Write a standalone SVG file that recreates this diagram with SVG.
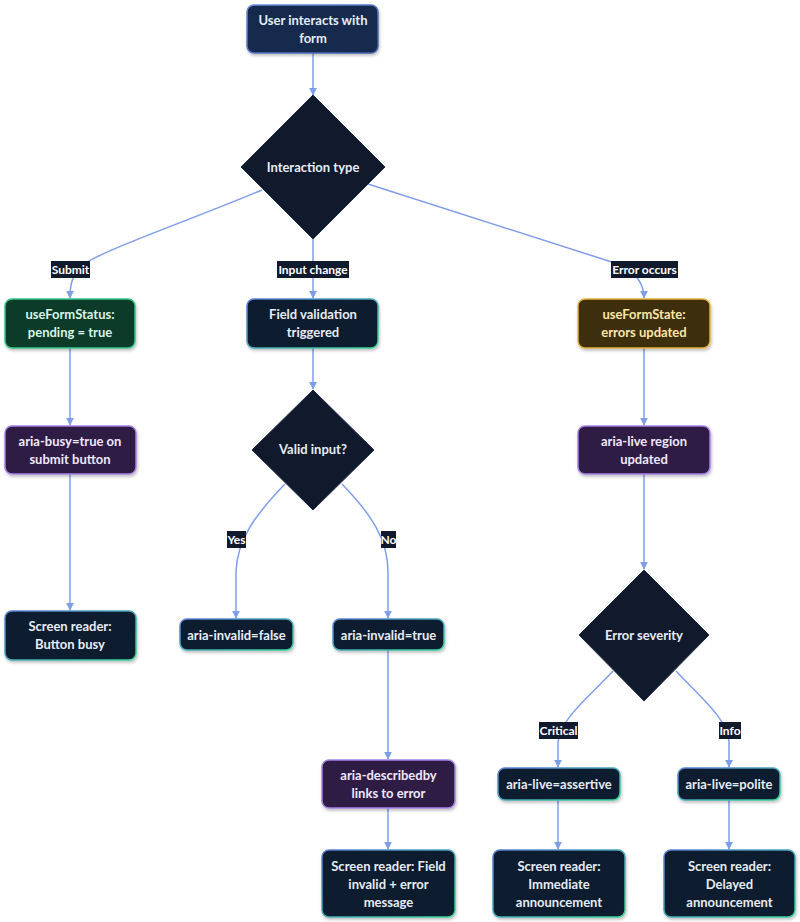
<svg xmlns="http://www.w3.org/2000/svg" width="800" height="922" viewBox="0 0 800 922">
<defs>
<linearGradient id="gDef" x1="0" y1="0" x2="1" y2="1">
<stop offset="0" stop-color="#5b7fd6"/><stop offset="1" stop-color="#34d399"/>
</linearGradient>
<linearGradient id="gTop" x1="0" y1="0" x2="1" y2="1">
<stop offset="0" stop-color="#6b8fe0"/><stop offset="1" stop-color="#3f5ea8"/>
</linearGradient>
<marker id="arr" viewBox="0 0 10 10" refX="9" refY="5" markerWidth="8" markerHeight="8" markerUnits="userSpaceOnUse" orient="auto">
<path d="M0,0 L10,5 L0,10 z" fill="#7f9ee9"/>
</marker>
<filter id="sh" x="-10%" y="-10%" width="130%" height="140%">
<feDropShadow dx="1" dy="2" stdDeviation="1.5" flood-color="#000" flood-opacity="0.25"/>
</filter>
</defs>
<style>
text{font-family:Lato,"Noto Sans","Liberation Sans",sans-serif;font-weight:bold;font-size:13px;text-anchor:middle;dominant-baseline:central;fill:#e6ecf5}
.n rect{stroke-width:1.5;filter:url(#sh)}
.def rect{fill:#111a2d;stroke:url(#gDef)}
.top rect{fill:#172a4e;stroke:url(#gTop)}
.grn rect{fill:#0d3b2c;stroke:#34c68a}
.grn text{fill:#d8f5e8}
.pur rect{fill:#2d1a44;stroke:#a783e6}
.pur text{fill:#efe7fb}
.yel rect{fill:#3d2f0e;stroke:#e5b13f}
.yel text{fill:#fbe7a6}
.dia polygon{fill:#111a2d;stroke:#1f2c45;stroke-width:1}
.e path{fill:none;stroke:#7f9ee9;stroke-width:1.5;marker-end:url(#arr)}
.lbl rect{fill:#111a2d}
.lbl text{font-size:12px;fill:#ffffff}
</style>

<g id="edges" class="e">
<path d="M313,53 L313,95"/>
<path d="M262,190 C170,228 92,254 79,268 C72,277 70,285 70,298"/>
<path d="M313,238 L313,298"/>
<path d="M368,184 L618,264 C636,272 644,283 644,298"/>
<path d="M70,348 L70,425"/>
<path d="M313,348 L313,389"/>
<path d="M644,348 L644,425"/>
<path d="M70,474 L70,610"/>
<path d="M285,484 C255,515 237,540 236,572 L236,618"/>
<path d="M342,484 C372,515 388,540 388,572 L388,618"/>
<path d="M644,474 L644,569"/>
<path d="M388,650 L388,759"/>
<path d="M388,808 L388,849"/>
<path d="M613,671 C588,698 561,718 558,742 L558,767"/>
<path d="M676,671 C701,698 727,718 729,742 L729,767"/>
<path d="M558,800 L558,849"/>
<path d="M729,800 L729,849"/>
</g>

<g id="labels" class="lbl">
<g id="l-submit"><rect x="51" y="261" width="39" height="17"/><text x="70.5" y="269.5">Submit</text></g>
<g id="l-input"><rect x="277" y="261" width="72" height="17"/><text x="313" y="269.5">Input change</text></g>
<g id="l-error"><rect x="611" y="261" width="67" height="17"/><text x="644.5" y="269.5">Error occurs</text></g>
<g id="l-yes"><rect x="227" y="531" width="19" height="17"/><text x="236.5" y="539.5">Yes</text></g>
<g id="l-no"><rect x="381" y="531" width="15" height="17"/><text x="388.5" y="539.5">No</text></g>
<g id="l-crit"><rect x="539" y="722" width="39" height="17"/><text x="558.5" y="730.5">Critical</text></g>
<g id="l-info"><rect x="719" y="722" width="22" height="17"/><text x="730" y="730.5">Info</text></g>
</g>

<g id="n-start" class="n top"><rect x="247" y="5" width="131" height="48" rx="7"/><text x="313" y="20">User interacts with</text><text x="313" y="38">form</text></g>
<g id="n-type" class="dia"><polygon points="313,95 385,167 313,239 241,167"/><text x="313" y="167">Interaction type</text></g>

<g id="n-status" class="n grn"><rect x="5" y="299" width="130" height="49" rx="7"/><text x="70" y="314">useFormStatus:</text><text x="70" y="332">pending = true</text></g>
<g id="n-field" class="n def"><rect x="247" y="299" width="131" height="49" rx="7"/><text x="313" y="314">Field validation</text><text x="313" y="332">triggered</text></g>
<g id="n-state" class="n yel"><rect x="578" y="299" width="132" height="49" rx="7"/><text x="644" y="314">useFormState:</text><text x="644" y="332">errors updated</text></g>

<g id="n-busy" class="n pur"><rect x="5" y="426" width="131" height="48" rx="7"/><text x="70" y="441">aria-busy=true on</text><text x="70" y="459">submit button</text></g>
<g id="n-valid" class="dia"><polygon points="313,390 374,450 313,510 252,450"/><text x="313" y="449">Valid input?</text></g>
<g id="n-live" class="n pur"><rect x="578" y="426" width="132" height="48" rx="7"/><text x="644" y="441">aria-live region</text><text x="644" y="459">updated</text></g>

<g id="n-srbusy" class="n def"><rect x="5" y="611" width="131" height="49" rx="7"/><text x="70" y="626">Screen reader:</text><text x="70" y="644">Button busy</text></g>
<g id="n-false" class="n def"><rect x="180" y="619" width="113" height="31" rx="7"/><text x="236.5" y="634.5">aria-invalid=false</text></g>
<g id="n-true" class="n def"><rect x="333" y="619" width="111" height="31" rx="7"/><text x="388.5" y="634.5">aria-invalid=true</text></g>
<g id="n-sev" class="dia"><polygon points="644,570 709,635 644,701 579,635"/><text x="644" y="635">Error severity</text></g>

<g id="n-desc" class="n pur"><rect x="322" y="760" width="133" height="48" rx="7"/><text x="388.5" y="775">aria-describedby</text><text x="388.5" y="793">links to error</text></g>
<g id="n-assert" class="n def"><rect x="498" y="768" width="122" height="32" rx="7"/><text x="559" y="784">aria-live=assertive</text></g>
<g id="n-polite" class="n def"><rect x="678" y="768" width="102" height="32" rx="7"/><text x="729" y="784">aria-live=polite</text></g>

<g id="n-srfield" class="n def"><rect x="322" y="850" width="133" height="67" rx="7"/><text x="388.5" y="866">Screen reader: Field</text><text x="388.5" y="884">invalid + error</text><text x="388.5" y="902">message</text></g>
<g id="n-srimm" class="n def"><rect x="493" y="850" width="132" height="67" rx="7"/><text x="559" y="866">Screen reader:</text><text x="559" y="884">Immediate</text><text x="559" y="902">announcement</text></g>
<g id="n-srdel" class="n def"><rect x="664" y="850" width="131" height="67" rx="7"/><text x="729.5" y="866">Screen reader:</text><text x="729.5" y="884">Delayed</text><text x="729.5" y="902">announcement</text></g>
</svg>
